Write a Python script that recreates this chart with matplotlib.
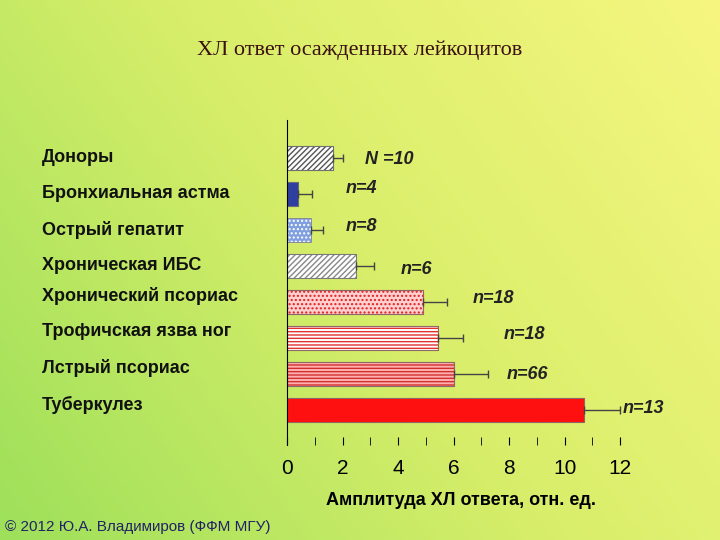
import numpy as np
import matplotlib
matplotlib.use("Agg")
import matplotlib.pyplot as plt
from matplotlib.colors import LinearSegmentedColormap

plt.rcParams['font.family'] = ['Liberation Sans', 'DejaVu Sans']

categories = ["Доноры", "Бронхиальная астма", "Острый гепатит", "Хроническая ИБС",
              "Хронический псориас", "Трофичская язва ног", "Лстрый псориас", "Туберкулез"]
values = [1.65, 0.4, 0.85, 2.5, 4.9, 5.45, 6.0, 10.7]
errors = [0.35, 0.5, 0.45, 0.65, 0.85, 0.9, 1.25, 1.3]
n_labels = ["N =10", "n=4", "n=8", "n=6", "n=18", "n=18", "n=66", "n=13"]
n_x = [2.8, 2.1, 2.1, 4.1, 6.7, 7.8, 7.9, 12.1]
n_dy = [0.05, -0.15, -0.1, 0.1, -0.1, -0.1, 0.0, -0.05]
xticks = [0, 2, 4, 6, 8, 10, 12]

faces = ["white", "#2f3f9f", "#7f9fdf", "white", "#ffd0d0", "white", "#ffb0b0", "#ff1010"]
hatches = ["//////", None, "....", "//////", "....", "-----", "-----", None]
hcolors = ["#555555", "#2f3f9f", "#ffffff", "#888888", "#e02020", "#e03030", "#d03030", "#ff1010"]

fig = plt.figure(figsize=(7.2, 5.4), dpi=100)
bg = fig.add_axes([0, 0, 1, 1], zorder=-10)
cmap = LinearSegmentedColormap.from_list("g", ["#9ee05a", "#d8ee6a", "#f6f680"])
xx, yy = np.meshgrid(np.linspace(0, 1, 200), np.linspace(0, 1, 200))
bg.imshow(0.65 * xx + 0.35 * (1 - yy), cmap=cmap, aspect="auto", extent=[0, 1, 0, 1], origin="upper")
bg.axis("off")

ax = fig.add_axes([287/720, 1-445/540, 347/720, 325/540])
ax.set_facecolor("none")
y = np.arange(len(categories))
plt.rcParams['hatch.linewidth'] = 1.0
for i in range(len(categories)):
    ax.barh(y[i], values[i], height=0.68, color=faces[i], hatch=hatches[i],
            edgecolor=hcolors[i], linewidth=0.8)
    ax.barh(y[i], values[i], height=0.68, color="none", edgecolor="#777777", linewidth=0.6)
ax.errorbar(values, y, xerr=[np.zeros(len(errors)), errors], fmt="none",
            ecolor="#444444", elinewidth=1, capsize=3)
for i in range(len(categories)):
    ax.text(n_x[i], y[i] + n_dy[i], n_labels[i], fontsize=13, style="italic",
            fontweight="bold", va="center", ha="left", color="#222222")
ax.set_xlim(0, 12.5)
ax.set_ylim(7.97, -1.05)
ax.set_yticks([])
for s in ["top", "right", "bottom"]:
    ax.spines[s].set_visible(False)
ax.set_xticks(xticks)
ax.set_xticks(np.arange(1, 13, 2), minor=True)
ax.tick_params(axis="x", direction="in", length=6, labelsize=15, pad=10)
ax.tick_params(axis="x", which="minor", direction="in", length=6)
ax.set_xlabel("Амплитуда ХЛ ответа, отн. ед.", fontsize=13, fontweight="bold", labelpad=10)

label_y = [158, 193, 230, 266, 296, 331, 368, 405]
for lab, py in zip(categories, label_y):
    fig.text(42/720, 1 - py/540, lab, fontsize=13, va="center", ha="left",
             color="#111111", fontweight="bold")

fig.text(0.5, 1 - 50/540, "ХЛ ответ осажденных лейкоцитов", fontsize=16,
         family="Liberation Serif", ha="center", va="center", color="#3a1010")
fig.text(5/720, 1 - 527/540, "© 2012 Ю.А. Владимиров (ФФМ МГУ)", fontsize=11,
         ha="left", va="center", color="#222266")
fig.savefig("out.png", dpi=100)
